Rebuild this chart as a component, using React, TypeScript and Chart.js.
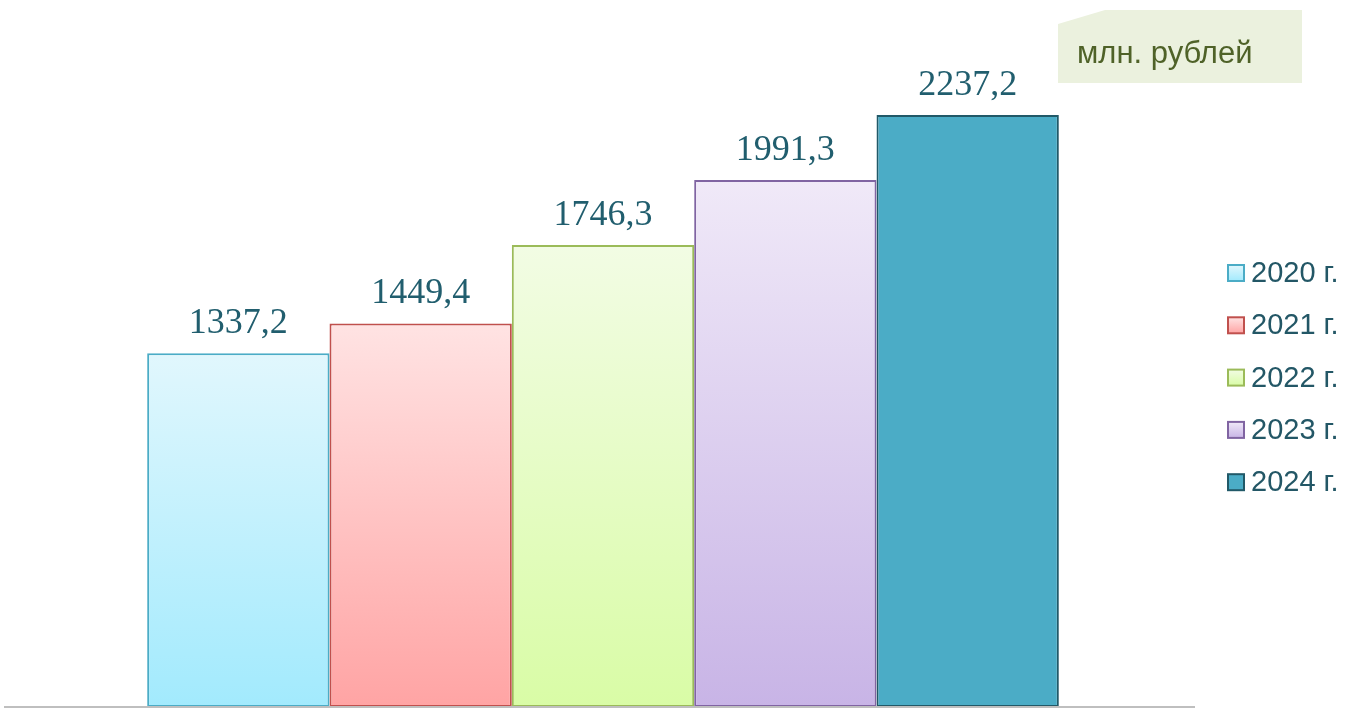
import React, { useEffect, useRef } from "react";
import { Chart, registerables } from "chart.js";

Chart.register(...registerables);

const categories = [""];
const seriesNames = ["2020 г.", "2021 г.", "2022 г.", "2023 г.", "2024 г."];
const seriesValues = [1337.2, 1449.4, 1746.3, 1991.3, 2237.2];
const valueLabels = ["1337,2", "1449,4", "1746,3", "1991,3", "2237,2"];
const unitLabel = "млн. рублей";

const gradTop = ["#E1F7FD", "#FFE3E3", "#F2FCE4", "#F0E9F8", "#4BACC6"];
const gradBottom = ["#A2EAFD", "#FFA4A4", "#D9FCA6", "#C8B4E6", "#4BACC6"];
const borders = ["#4BACC6", "#C0504D", "#9BBB59", "#8064A2", "#215968"];

const W = 1352;
const H = 708;

const overlayPlugin = {
  id: "overlay",
  beforeDraw(chart: any) {
    const ctx = chart.ctx;
    ctx.save();
    // unit box
    ctx.fillStyle = "#EBF1DE";
    ctx.beginPath();
    ctx.moveTo(1058, 24);
    ctx.lineTo(1105, 10);
    ctx.lineTo(1302, 10);
    ctx.lineTo(1302, 83);
    ctx.lineTo(1058, 83);
    ctx.closePath();
    ctx.fill();
    ctx.fillStyle = "#4F6228";
    ctx.font = "31px 'Liberation Sans', Arial, sans-serif";
    ctx.textAlign = "left";
    ctx.textBaseline = "middle";
    ctx.fillText(unitLabel, 1077, 54);
    ctx.restore();
  },
  afterDatasetsDraw(chart: any) {
    const ctx = chart.ctx;
    const area = chart.chartArea;
    ctx.save();
    // baseline
    ctx.strokeStyle = "#BFBFBF";
    ctx.lineWidth = 2;
    ctx.beginPath();
    ctx.moveTo(4, area.bottom);
    ctx.lineTo(1195, area.bottom);
    ctx.stroke();
    // value labels
    ctx.fillStyle = "#215E6E";
    ctx.font = "36px 'Liberation Serif', 'Times New Roman', serif";
    ctx.textAlign = "center";
    ctx.textBaseline = "alphabetic";
    chart.data.datasets.forEach((ds: any, i: number) => {
      const meta = chart.getDatasetMeta(i);
      const el = meta.data[0];
      if (!el) return;
      ctx.fillText(valueLabels[i], el.x, el.y - 20);
    });
    // legend
    const startY = 273;
    const step = 52.3;
    seriesNames.forEach((name, i) => {
      const cy = startY + i * step;
      const x0 = 1228;
      const s = 16;
      const g = ctx.createLinearGradient(0, cy - s / 2, 0, cy + s / 2);
      g.addColorStop(0, gradTop[i]);
      g.addColorStop(1, gradBottom[i]);
      ctx.fillStyle = g;
      ctx.fillRect(x0, cy - s / 2, s, s);
      ctx.strokeStyle = borders[i];
      ctx.lineWidth = 2;
      ctx.strokeRect(x0, cy - s / 2, s, s);
      ctx.fillStyle = "#235766";
      ctx.font = "29px 'Liberation Sans', Arial, sans-serif";
      ctx.textAlign = "left";
      ctx.textBaseline = "middle";
      ctx.fillText(name, 1251, cy + 1);
    });
    ctx.restore();
  },
};

export default function App() {
  const ref = useRef<HTMLCanvasElement>(null);
  useEffect(() => {
    if (!ref.current) return;
    const chart = new Chart(ref.current, {
      type: "bar",
      data: {
        labels: categories,
        datasets: seriesNames.map((name, i) => ({
          label: name,
          data: [seriesValues[i]],
          borderColor: borders[i],
          borderWidth: 2,
          borderSkipped: false,
          backgroundColor: (c: any) => {
            const chartObj = c.chart;
            const area = chartObj.chartArea;
            if (!area || !chartObj.scales || !chartObj.scales.y) return gradBottom[i];
            const v = c.raw as number;
            const top = chartObj.scales.y.getPixelForValue(v);
            const g = chartObj.ctx.createLinearGradient(0, top, 0, area.bottom);
            g.addColorStop(0, gradTop[i]);
            g.addColorStop(1, gradBottom[i]);
            return g;
          },
          categoryPercentage: 0.77,
          barPercentage: 1.0,
        })),
      },
      options: {
        responsive: false,
        animation: false,
        layout: { padding: { left: 11, right: 157, top: 19, bottom: 1 } },
        plugins: {
          legend: { display: false },
          tooltip: { enabled: false },
        },
        scales: {
          x: { display: false },
          y: { display: false, min: 0, max: 2600 },
        },
      },
      plugins: [overlayPlugin],
    } as any);
    return () => chart.destroy();
  }, []);
  return (
    <div style={{ position: "absolute", left: 0, top: 0, width: W, height: H, background: "#fff" }}>
      <canvas ref={ref} width={W} height={H} style={{ display: "block" }} />
    </div>
  );
}
